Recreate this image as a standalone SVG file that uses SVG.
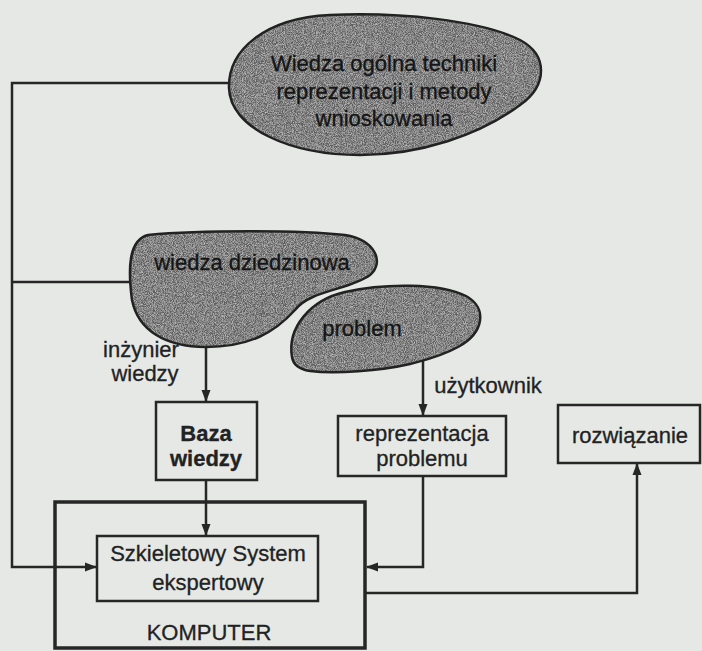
<svg xmlns="http://www.w3.org/2000/svg" width="702" height="651" viewBox="0 0 702 651">
<style>
.bg{fill:#e5e8e5}
.blobfill{fill:#5f5f5f;stroke:none}
.blobline{fill:none;stroke:#222;stroke-width:2.5}
.box{fill:none;stroke:#262626;stroke-width:2.5}
.outer{fill:none;stroke:#262626;stroke-width:3.5}
.ln{fill:none;stroke:#262626;stroke-width:2.5}
text{font-family:"Liberation Sans",Arial,sans-serif;font-size:22px;fill:#222;text-anchor:middle;stroke:#222;stroke-width:0.3}
.bt{fill:#151515;stroke:#151515}
.b{font-weight:bold}
</style>
<defs>
<marker id="ah" viewBox="0 0 12 12" refX="11" refY="6" markerWidth="12" markerHeight="12" markerUnits="userSpaceOnUse" orient="auto">
<path d="M0,1.5 L12,6 L0,10.5 Z" fill="#262626"/>
</marker>
<filter id="grain" x="0" y="0" width="100%" height="100%">
<feTurbulence type="fractalNoise" baseFrequency="1.1" numOctaves="2" seed="4" result="noise"/>
<feColorMatrix in="noise" type="matrix" values="0 0 0 0 0.72  0 0 0 0 0.72  0 0 0 0 0.72  1.4 0 0 0 -0.5" result="speck"/>
<feComposite in="speck" in2="SourceAlpha" operator="in" result="sp"/>
<feMerge><feMergeNode in="SourceGraphic"/><feMergeNode in="sp"/></feMerge>
</filter>
<path id="shTop" d="M229,88 C228,50 265,18 330,15 C400,12 480,20 520,40 C548,55 548,85 520,105 C480,135 420,155 360,155 C290,155 230,128 229,88 Z"/>
<path id="shDom" d="M148,235 C200,230 300,230 345,235 C375,240 385,262 370,275 C350,290 310,290 295,310 C275,332 250,347 206,347 C165,347 138,330 132,300 C128,270 128,240 148,235 Z"/>
<path id="shProb" d="M292,357 C287,328 310,300 345,292 C385,283 440,283 466,296 C488,308 484,333 458,347 C440,357 425,360 410,364 C380,371 335,374 310,371 C298,369 293,364 292,357 Z"/>
</defs>
<rect class="bg" x="0" y="0" width="702" height="651"/>
<g id="connectors">
<polyline class="ln" points="230,83 12,83 12,567 96,567" marker-end="url(#ah)"/>
<line class="ln" x1="12" y1="282" x2="132" y2="282"/>
<line class="ln" x1="206" y1="346" x2="206" y2="401" marker-end="url(#ah)"/>
<line class="ln" x1="423" y1="360" x2="423" y2="415" marker-end="url(#ah)"/>
<line class="ln" x1="206" y1="480" x2="206" y2="535" marker-end="url(#ah)"/>
<polyline class="ln" points="423,476 423,567 367,567" marker-end="url(#ah)"/>
<polyline class="ln" points="365,593 637,593 637,464" marker-end="url(#ah)"/>
</g>
<g id="wiedza-ogolna">
<use href="#shTop" class="blobfill" filter="url(#grain)"/>
<use href="#shTop" class="blobline"/>
<text class="bt" x="384" y="71">Wiedza ogólna techniki</text>
<text class="bt" x="384" y="99">reprezentacji i metody</text>
<text class="bt" x="384" y="126">wnioskowania</text>
</g>
<g id="wiedza-dziedzinowa">
<use href="#shDom" class="blobfill" filter="url(#grain)"/>
<use href="#shDom" class="blobline"/>
<text class="bt" x="252" y="270">wiedza dziedzinowa</text>
</g>
<g id="problem">
<use href="#shProb" class="blobfill" filter="url(#grain)"/>
<use href="#shProb" class="blobline"/>
<text class="bt" x="362" y="336">problem</text>
</g>
<g id="label-inzynier">
<text x="141" y="357">inżynier</text>
<text x="145" y="381">wiedzy</text>
</g>
<g id="label-uzytkownik">
<text x="488" y="393">użytkownik</text>
</g>
<g id="baza">
<rect class="box" x="156" y="402" width="101" height="78"/>
<text class="b" x="206" y="441">Baza</text>
<text class="b" x="206" y="466">wiedzy</text>
</g>
<g id="reprezentacja">
<rect class="box" x="338" y="416" width="168" height="60"/>
<text x="422" y="441">reprezentacja</text>
<text x="422" y="466">problemu</text>
</g>
<g id="rozwiazanie">
<rect class="box" x="558" y="405" width="142" height="58"/>
<text x="630" y="443">rozwiązanie</text>
</g>
<g id="komputer">
<rect class="outer" x="55" y="502" width="310" height="146"/>
<text x="209" y="640">KOMPUTER</text>
</g>
<g id="szkieletowy">
<rect class="box" x="97" y="536" width="221" height="65"/>
<text x="208" y="561">Szkieletowy System</text>
<text x="208" y="590">ekspertowy</text>
</g>
</svg>
